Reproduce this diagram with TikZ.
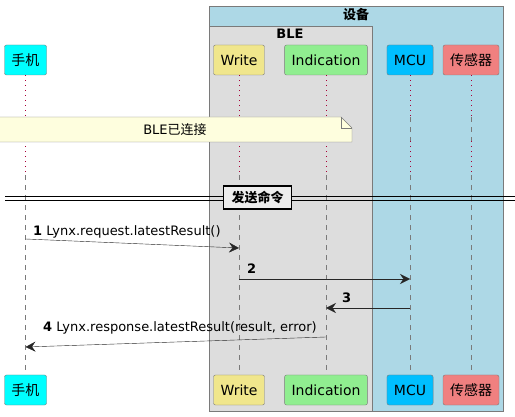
\documentclass[tikz,border=0pt]{standalone}
\usepackage{fontspec}
\setmainfont{DejaVu Sans}
\newfontfamily\cjk{Noto Sans CJK SC}
\usetikzlibrary{arrows.meta,shapes,positioning,calc}

\definecolor{boxblue}{HTML}{ADD8E6}
\definecolor{boxgray}{HTML}{DDDDDD}
\definecolor{aqua}{HTML}{00FFFF}
\definecolor{khaki}{HTML}{F0E68C}
\definecolor{lgreen}{HTML}{90EE90}
\definecolor{skyblue}{HTML}{00BFFF}
\definecolor{lcoral}{HTML}{F08080}
\definecolor{notefill}{HTML}{FEFEDE}
\definecolor{lifered}{HTML}{A80036}
\definecolor{edge}{HTML}{7A7A7A}

\begin{document}
\begin{tikzpicture}[x=1pt,y=-1pt,
		actor/.style={draw=edge, rounded corners=2pt, minimum height=30pt, inner xsep=7pt, font=\fontsize{14}{16}\selectfont},
		life/.style={draw=edge, dash pattern=on 5pt off 5pt},
		delay/.style={draw=lifered, dash pattern=on 1pt off 4pt},
		msg/.style={draw=black!85, -{Stealth[length=10pt,width=10pt,inset=3.5pt]}},
		lbl/.style={font=\fontsize{13}{15}\selectfont, anchor=base west, inner sep=0pt}]
			\useasboundingbox (0,0) rectangle (515,417);
			
			% Device and BLE boxes
			\draw[edge, fill=boxblue] (209,6) rectangle (503,411);
			\draw[edge, fill=boxgray] (209,26) rectangle (372,411);
			\node[font=\bfseries\cjk\fontsize{13}{15}\selectfont] (devtitle) at (356,15) {设备};
			\node[font=\bfseries\fontsize{13}{15}\selectfont] (bletitle) at (290,34) {BLE};
			
			% Participants, top and bottom
			\node[actor, fill=aqua] (phone) at (25.5,60) {\cjk 手机};
			\node[actor, fill=khaki] (write) at (239,60) {Write};
			\node[actor, fill=lgreen] (indic) at (326,60) {Indication};
			\node[actor, fill=skyblue] (mcu) at (410,60) {MCU};
			\node[actor, fill=lcoral] (sensor) at (471,60) {\cjk 传感器};
			\node[actor, fill=aqua] (phoneB) at (25.5,390) {\cjk 手机};
			\node[actor, fill=khaki] (writeB) at (239,390) {Write};
			\node[actor, fill=lgreen] (indicB) at (326,390) {Indication};
			\node[actor, fill=skyblue] (mcuB) at (410,390) {MCU};
			\node[actor, fill=lcoral] (sensorB) at (471,390) {\cjk 传感器};
			
			% Lifelines
			\foreach \p in {phone,write,indic,mcu,sensor} {
				\draw[delay] (\p.south) -- ($(\p.south)+(0,42)$);
				\draw[life] ($(\p.south)+(0,42)$) -- ($(\p.south)+(0,66)$);
				\draw[delay] ($(\p.south)+(0,66)$) -- ($(\p.south)+(0,100)$);
				\draw[life] ($(\p.south)+(0,100)$) -- (\p B.north);
			}
			
			% Note
			\draw[edge, fill=notefill] (-1,117) -- (341,117) -- (352,128) -- (352,142) -- (-1,142) -- cycle;
			\draw[edge] (341,117) -- (341,128) -- (352,128);
			\node[font=\fontsize{13}{15}\selectfont] (note) at (175,130) {BLE{\cjk 已连接}};
			
			% Divider
			\draw[black] (5,196.5) -- (515,196.5);
			\draw[black] (5,200.5) -- (515,200.5);
			\node[draw=black, line width=1.4pt, fill=black!7, inner xsep=8pt, minimum height=23pt, font=\bfseries\cjk\fontsize{13}{15}\selectfont] (divider) at (257.5,197.5) {发送命令};
			
			% Messages
			\coordinate (m1s) at (25.5,239);
			\coordinate (m1e) at (239,248);
			\draw[msg] (m1s) -- (m1e);
			\node[lbl] (l1) at (33,236) {\textbf{1} Lynx.request.latestResult()};
			
			\coordinate (m2s) at (239,279);
			\coordinate (m2e) at (410,279);
			\draw[msg] (m2s) -- (m2e);
			\node[lbl] (l2) at (247,274) {\textbf{2}};
			
			\coordinate (m3s) at (410,308);
			\coordinate (m3e) at (326,308);
			\draw[msg] (m3s) -- (m3e);
			\node[lbl] (l3) at (342,303) {\textbf{3}};
			
			\coordinate (m4s) at (326,337);
			\coordinate (m4e) at (25.5,347);
			\draw[msg] (m4s) -- (m4e);
			\node[lbl] (l4) at (43,332) {\textbf{4} Lynx.response.latestResult(result, error)};
		\end{tikzpicture}
\end{document}
